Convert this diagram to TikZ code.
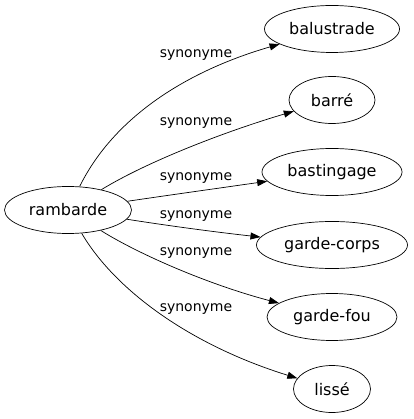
\documentclass[tikz,border=0pt]{standalone}
\usepackage{fontspec}
\setmainfont{DejaVu Sans}
\usetikzlibrary{shapes.geometric, arrows.meta}

\begin{document}
\begin{tikzpicture}[x=1pt, y=-1pt, line width=0.7pt,
  mot/.style={draw, ellipse, inner sep=0pt, minimum height=47pt, font=\fontsize{16}{19}\selectfont},
  syn/.style={font=\fontsize{14}{17}\selectfont},
  rel/.style={-{Triangle[length=10pt, width=7pt]}}]
\useasboundingbox (0,0) rectangle (413,419);
\node[mot, minimum width=127pt](ram) at (68,210){rambarde};
\node[mot, minimum width=135pt](bal) at (332,29){balustrade};
\node[mot, minimum width=86pt](bar) at (332,100){barré};
\node[mot, minimum width=140pt](bas) at (332,172){bastingage};
\node[mot, minimum width=151pt](gco) at (332,245){garde-corps};
\node[mot, minimum width=130pt](gfo) at (332,317){garde-fou};
\node[mot, minimum width=77pt](lis) at (332,389){lissé};
\node[syn](s1) at (196,55){synonyme};
\node[syn](s2) at (196,123){synonyme};
\node[syn](s3) at (196,178){synonyme};
\node[syn](s4) at (196,216){synonyme};
\node[syn](s5) at (196,253){synonyme};
\node[syn](s6) at (196,309){synonyme};
\draw[rel] (ram) .. controls (115,115) and (190,70) .. (bal);
\draw[rel] (ram) .. controls (150,160) and (230,130) .. (bar);
\draw[rel] (ram) .. controls (170,195) and (220,188) .. (bas);
\draw[rel] (ram) .. controls (170,226) and (215,232) .. (gco);
\draw[rel] (ram) .. controls (140,255) and (210,285) .. (gfo);
\draw[rel] (ram) .. controls (115,290) and (190,345) .. (lis);
\end{tikzpicture}
\end{document}
